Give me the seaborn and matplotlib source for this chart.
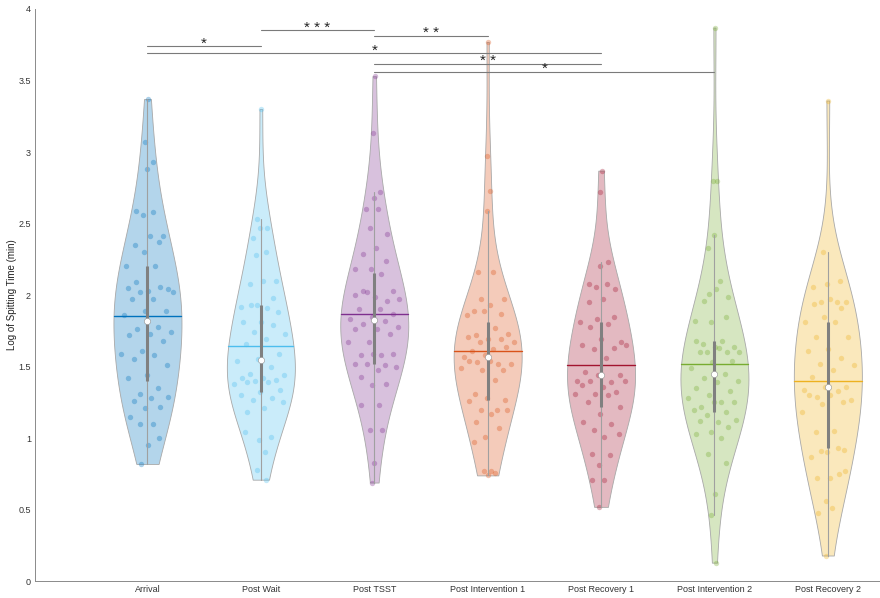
import numpy as np
import pandas as pd
import seaborn as sns
import matplotlib.pyplot as plt

"""
Data
"""
groups = ['Arrival', 'Post Wait', 'Post TSST', 'Post Intervention 1',
          'Post Recovery 1', 'Post Intervention 2', 'Post Recovery 2']

arrival = [3.37, 3.07, 2.93, 2.88, 2.59, 2.58, 2.56, 2.41, 2.41, 2.35, 2.37, 2.30,
           2.20, 2.20, 2.09, 2.04, 2.03, 2.05, 2.06, 2.02, 2.02, 1.97, 1.97, 1.89,
           1.89, 1.86, 1.78, 1.76, 1.74, 1.73, 1.72, 1.68, 1.61, 1.59, 1.58, 1.55,
           1.51, 1.44, 1.42, 1.35, 1.31, 1.29, 1.28, 1.26, 1.22, 1.21, 1.15, 1.10,
           1.10, 1.00, 0.95, 0.82]
post_wait = [3.30, 2.53, 2.47, 2.47, 2.40, 2.30, 2.28, 2.10, 2.10, 2.08, 1.98, 1.93,
             1.92, 1.91, 1.93, 1.88, 1.81, 1.81, 1.79, 1.74, 1.73, 1.69, 1.66, 1.59,
             1.55, 1.54, 1.50, 1.45, 1.44, 1.42, 1.42, 1.41, 1.40, 1.38, 1.39, 1.39,
             1.34, 1.32, 1.30, 1.28, 1.27, 1.25, 1.21, 1.18, 1.01, 0.99, 1.04, 0.90,
             0.78, 0.71]
post_tsst = [3.53, 3.13, 2.72, 2.68, 2.60, 2.60, 2.47, 2.43, 2.33, 2.29, 2.24, 2.18,
             2.18, 2.15, 2.03, 2.03, 1.99, 2.00, 1.96, 2.02, 1.97, 1.90, 1.90, 1.87,
             1.85, 1.83, 1.82, 1.80, 1.78, 1.76, 1.76, 1.73, 1.67, 1.67, 1.58, 1.58,
             1.59, 1.59, 1.52, 1.51, 1.52, 1.50, 1.48, 1.43, 1.38, 1.37, 1.23, 1.23,
             1.06, 1.06, 0.83, 0.69]
post_int1 = [3.77, 2.97, 2.73, 2.59, 2.16, 2.16, 1.97, 1.97, 1.93, 1.89, 1.87, 1.89,
             1.86, 1.77, 1.72, 1.73, 1.69, 1.71, 1.69, 1.67, 1.67, 1.62, 1.61, 1.64,
             1.58, 1.57, 1.52, 1.53, 1.52, 1.54, 1.54, 1.48, 1.48, 1.49, 1.41, 1.31,
             1.27, 1.28, 1.26, 1.20, 1.20, 1.20, 1.17, 1.11, 1.07, 1.01, 0.97, 0.77,
             0.77, 0.76, 0.74]
post_rec1 = [2.87, 2.72, 2.23, 2.20, 2.08, 2.08, 2.06, 2.04, 1.97, 1.95, 1.85, 1.83,
             1.81, 1.80, 1.78, 1.67, 1.69, 1.65, 1.63, 1.62, 1.65, 1.56, 1.46, 1.44,
             1.44, 1.40, 1.39, 1.40, 1.40, 1.36, 1.37, 1.32, 1.31, 1.31, 1.30, 1.25,
             1.22, 1.17, 1.11, 1.10, 1.06, 1.03, 1.01, 0.89, 0.88, 0.81, 0.71, 0.71,
             0.52]
post_int2 = [3.87, 2.80, 2.80, 2.42, 2.33, 2.10, 2.01, 1.99, 2.04, 1.96, 1.85, 1.81,
             1.82, 1.68, 1.66, 1.64, 1.64, 1.68, 1.60, 1.60, 1.60, 1.63, 1.60, 1.54,
             1.53, 1.49, 1.45, 1.42, 1.40, 1.39, 1.35, 1.33, 1.30, 1.28, 1.25, 1.22,
             1.25, 1.25, 1.20, 1.18, 1.16, 1.13, 1.11, 1.12, 1.08, 1.04, 1.03, 1.00,
             0.89, 0.83, 0.61, 0.46, 0.13]
post_rec2 = [3.36, 2.30, 2.10, 2.08, 2.06, 1.95, 1.95, 1.95, 1.97, 1.94, 1.91, 1.85,
             1.81, 1.81, 1.71, 1.71, 1.62, 1.61, 1.56, 1.52, 1.51, 1.48, 1.43, 1.36,
             1.36, 1.34, 1.33, 1.29, 1.27, 1.30, 1.30, 1.25, 1.24, 1.18, 1.05, 1.04,
             0.92, 0.90, 0.87, 0.93, 0.91, 0.77, 0.72, 0.72, 0.75, 0.56, 0.48, 0.51,
             0.18]

values = [arrival, post_wait, post_tsst, post_int1, post_rec1, post_int2, post_rec2]

colors = ['#0072BD', '#4DBEEE', '#7E2F8E', '#D95319', '#A2142F', '#77AC30', '#EDB120']

# significance brackets
sig_pairs = [(0, 1), (1, 2), (2, 3), (0, 4), (2, 4), (2, 5)]
sig_heights = [3.74, 3.85, 3.81, 3.69, 3.615, 3.56]
sig_labels = ['*', '* * *', '* *', '*', '* *', '*']

df = pd.DataFrame({
    'group': np.repeat(groups, [len(v) for v in values]),
    'value': np.concatenate(values),
})

# light fill = colour at 30% over white
light = [tuple(1 - 0.3 * (1 - np.array(plt.matplotlib.colors.to_rgb(c)))) for c in colors]

"""
Plot
"""
sns.set_theme(style='white')
plt.rcParams['font.family'] = ['Liberation Sans', 'DejaVu Sans']

fig = plt.figure(figsize=(8.8, 5.98), dpi=100)
ax = fig.add_axes([0.040, 0.028, 0.960, 0.957])

sns.violinplot(data=df, x='group', y='value', hue='group', order=groups,
               hue_order=groups, palette=light, saturation=1, cut=0,
               density_norm='width', width=0.6, inner=None, linewidth=0.6,
               linecolor='#a8a8a8', bw_adjust=1.25, legend=False, ax=ax)

# map violin bodies to positions
bodies = {}
for coll in ax.collections:
    verts = coll.get_paths()[0].vertices
    c = int(round((verts[:, 0].min() + verts[:, 0].max()) / 2))
    bodies[c] = verts


def half_width(verts, center, yq):
    right = verts[verts[:, 0] >= center]
    o = np.argsort(right[:, 1])
    return np.interp(yq, right[o, 1], right[o, 0]) - center


golden = 0.6180339887
for i, (vals, col) in enumerate(zip(values, colors)):
    vals = np.array(vals)
    verts = bodies[i]
    # density-scaled jitter
    u = ((np.arange(len(vals)) + 1) * golden) % 1 * 2 - 1
    xs = i + 0.82 * u * half_width(verts, i, vals)
    ax.scatter(xs, vals, s=15, color=col, alpha=0.33, linewidths=0, zorder=2)

    q1, med, q3 = np.percentile(vals, [25, 50, 75])
    iqr = q3 - q1
    lo = vals[vals >= q1 - 1.5 * iqr].min()
    hi = vals[vals <= q3 + 1.5 * iqr].max()
    mean = vals.mean()
    hw = half_width(verts, i, mean)

    ax.plot([i, i], [lo, hi], color='#a0a0a0', lw=0.8, zorder=3)
    ax.plot([i - hw, i + hw], [mean, mean], color=col, lw=1.0, zorder=3.5)
    ax.plot([i, i], [q1, q3], color='#808080', lw=2.2, solid_capstyle='butt', zorder=4)
    ax.plot([i], [med], marker='o', markersize=4.5, markerfacecolor='white',
            markeredgecolor='#909090', markeredgewidth=0.4, zorder=5)

for (a, b), h, lab in zip(sig_pairs, sig_heights, sig_labels):
    ax.plot([a, b], [h, h], color='#7a7a7a', lw=0.8, zorder=1)
    ax.text((a + b) / 2, h - 0.008, lab, ha='center', va='baseline',
            fontsize=11, color='#222222')

ax.set_xlim(-0.99, 6.46)
ax.set_ylim(0, 4)
yt = np.arange(0, 4.01, 0.5)
ax.set_yticks(yt)
ax.set_yticklabels([f'{t:g}' for t in yt])
ax.set_xlabel('')
ax.set_ylabel('Log of Spitting Time (min)', fontsize=7, color='#222222', labelpad=1)

sns.despine(ax=ax)
for s in ['left', 'bottom']:
    ax.spines[s].set_color('#8a8a8a')
    ax.spines[s].set_linewidth(0.7)
ax.tick_params(axis='both', direction='in', length=5, width=0.6, color='#8a8a8a',
               labelsize=6.5, labelcolor='#333333', pad=3)

fig.savefig('out.png', dpi=100)
